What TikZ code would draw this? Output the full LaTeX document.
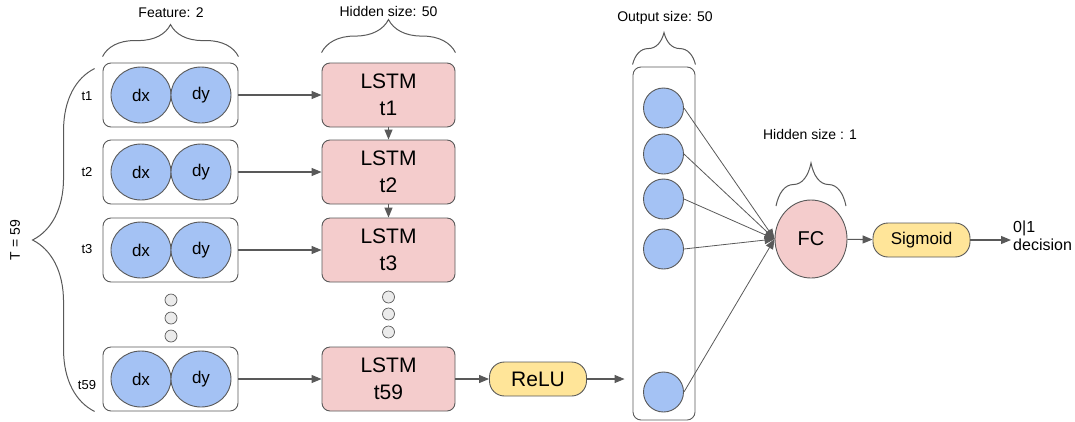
\documentclass[tikz,border=0pt]{standalone}
\usepackage{fontspec}
\setmainfont{Liberation Sans}
\usetikzlibrary{positioning,arrows.meta,shapes.geometric,decorations.pathreplacing}
\definecolor{lstmpink}{HTML}{F4CCCC}
\definecolor{featblue}{HTML}{A4C2F4}
\definecolor{actyellow}{HTML}{FFE599}
\definecolor{edgegray}{HTML}{595959}
\tikzset{
  conn/.style={-{Triangle[length=10pt,width=8pt]},line width=1.1pt,edgegray},
  framebox/.style={draw=edgegray,line width=0.9pt,rounded corners=8pt,minimum width=135pt,minimum height=64pt},
  feat/.style={ellipse,draw=edgegray,fill=featblue,line width=0.9pt,minimum width=60pt,minimum height=56pt,
    inner sep=0pt,font=\fontsize{17}{20}\selectfont},
  lstm/.style={draw=edgegray,fill=lstmpink,rounded corners=8pt,line width=0.9pt,minimum width=133pt,
    minimum height=64pt,align=center,font=\fontsize{21}{27}\selectfont},
  act/.style={draw=edgegray,fill=actyellow,rounded corners=15pt,line width=0.9pt,minimum width=97pt,
    minimum height=34pt,inner sep=0pt},
  dotc/.style={circle,draw=edgegray,fill=black!8,line width=0.7pt,minimum size=12pt,inner sep=0pt},
  outc/.style={circle,draw=edgegray,fill=featblue,line width=0.9pt,minimum size=40pt,inner sep=0pt},
  brc/.style={decorate,decoration={brace,amplitude=#1},line width=1pt,edgegray},
  lbl/.style={font=\fontsize{14}{17}\selectfont},
  tlab/.style={font=\fontsize{13}{15}\selectfont},
}
\begin{document}
\begin{tikzpicture}[x=1pt,y=-1pt]
  \useasboundingbox (0,0) rectangle (1075,421);
  % time steps: inputs and LSTM cells
  \foreach \i/\y/\ly in {1/95/96, 2/172/172, 3/250/249, 59/379/385}{
    \node[framebox] (in\i) at (170.5,\y) {};
    \node[feat] (dx\i) at (141,\y) {dx};
    \node[feat] (dy\i) at (201,\y) {dy};
    \node[tlab] (tl\i) at (87,\ly) {t\i};
    \node[lstm] (ls\i) at (388.5,\y) {LSTM\\t\i};
    \draw[conn] (in\i) -- (ls\i);
  }
  \draw[conn] (ls1) -- (ls2);
  \draw[conn] (ls2) -- (ls3);
  % skipped steps
  \foreach \j/\y in {1/300, 2/318, 3/336}
    \node[dotc] (ld\j) at (171,\y) {};
  \foreach \j/\y in {1/297, 2/314, 3/332}
    \node[dotc] (rd\j) at (388.5,\y) {};
  % braces and sizes
  \draw[brc=32pt] ([yshift=6pt]in1.north west) -- ([yshift=6pt]in1.north east);
  \node[lbl] (featlbl) at (171,13) {Feature: 2};
  \draw[brc=33pt] ([yshift=10pt]ls1.north west) -- ([yshift=10pt]ls1.north east);
  \node[lbl] (hidlbl) at (388.5,11) {Hidden size: 50};
  \draw[brc=62pt] ([xshift=-8pt]in59.south west) -- ([xshift=-8pt,yshift=-6pt]in1.north west);
  \node[lbl,rotate=90] (tlbl) at (15,240) {T = 59};
  % activation and output layer
  \node[act,font=\fontsize{21}{25}\selectfont] (relu) at (538,379) {ReLU};
  \draw[conn] (ls59) -- (relu);
  \node[draw=edgegray,rounded corners=8pt,line width=0.9pt,minimum width=62pt,minimum height=353pt] (col) at (664,243.5) {};
  \draw[conn,shorten >=8pt] (relu) -- (relu -| col.west);
  \draw[brc=32pt] ([yshift=2pt]col.north west) -- ([yshift=2pt]col.north east);
  \node[lbl] (outlbl) at (665,18) {Output size: 50};
  \foreach \k/\y in {1/108, 2/154, 3/199, 4/249, 5/392}
    \node[outc] (o\k) at (663.5,\y) {};
  % fully connected + sigmoid
  \node[ellipse,draw=edgegray,fill=lstmpink,line width=0.9pt,minimum width=72pt,minimum height=78pt,
    inner sep=0pt,font=\fontsize{20}{24}\selectfont] (fc) at (811,239) {FC};
  \foreach \k in {1,...,5}
    \draw[conn,line width=0.8pt] (o\k.east) -- (fc.west);
  \draw[brc=43pt] (776,206) -- (846,206);
  \node[lbl] (fclbl) at (810,134) {Hidden size : 1};
  \node[act,font=\fontsize{17}{20}\selectfont] (sig) at (921.5,240) {Sigmoid};
  \draw[conn] (fc) -- (sig);
  \node[anchor=west,align=left,inner sep=2pt,font=\fontsize{16}{18}\selectfont] (dec) at (1011,236) {0|1\\decision};
  \draw[conn] (sig) -- (sig -| dec.west);
\end{tikzpicture}
\end{document}
